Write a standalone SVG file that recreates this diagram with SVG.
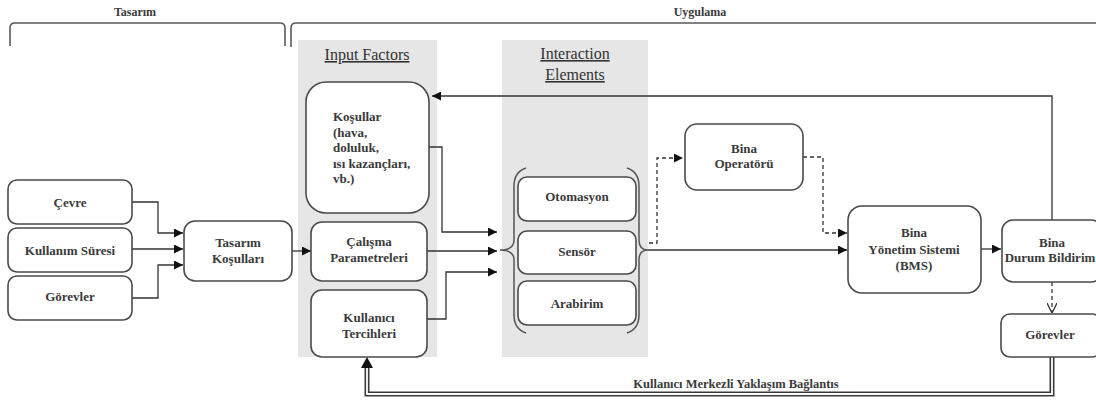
<svg xmlns="http://www.w3.org/2000/svg" width="1096" height="400" viewBox="0 0 1096 400">
  <defs>
    <style>
      .box { fill: #ffffff; stroke: #4a4a4a; stroke-width: 1.6; }
      .panel { fill: #e6e6e6; stroke: none; }
      .lbl { font-family: "Liberation Serif", "Times New Roman", serif; font-size: 13px; font-weight: bold; fill: #3a3a3a; text-anchor: middle; }
      .lbl-left { text-anchor: start; }
      .head { font-family: "Liberation Serif", "Times New Roman", serif; font-size: 16px; fill: #333333; text-anchor: middle; text-decoration: underline; }
      .phase { font-family: "Liberation Serif", "Times New Roman", serif; font-size: 12px; font-weight: bold; fill: #3a3a3a; text-anchor: middle; }
      .bracket { fill: none; stroke: #5a5a5a; stroke-width: 1.6; }
      .wire { fill: none; stroke: #333333; stroke-width: 1.3; }
      .dash { fill: none; stroke: #333333; stroke-width: 1.3; stroke-dasharray: 4 3; }
      .brace { fill: none; stroke: #555555; stroke-width: 1.5; }
    </style>
    <marker id="arrow" viewBox="0 0 10 10" refX="10" refY="5" markerWidth="10" markerHeight="9" markerUnits="userSpaceOnUse" orient="auto">
      <path d="M0,0 L10,5 L0,10 z" fill="#111111"/>
    </marker>
    <marker id="vee" viewBox="0 0 10 10" refX="10" refY="5" markerWidth="10" markerHeight="10" markerUnits="userSpaceOnUse" orient="auto">
      <path d="M0,0 L10,5 L0,10" fill="none" stroke="#333333" stroke-width="1.3"/>
    </marker>
  </defs>

  <rect width="1096" height="400" fill="#ffffff"/>

  <!-- phase brackets -->
  <g id="phases">
    <text class="phase" x="135" y="16">Tasarım</text>
    <path class="bracket" d="M10,46 V28 Q10,23 15,23 H280 Q285,23 285,28 V46"/>
    <text class="phase" x="700" y="16">Uygulama</text>
    <path class="bracket" d="M291,47 V28 Q291,23 296,23 H1100"/>
  </g>

  <!-- background panels -->
  <g id="panel-input">
    <rect class="panel" x="298" y="40" width="139" height="317"/>
    <text class="head" x="367" y="60">Input Factors</text>
  </g>
  <g id="panel-interaction">
    <rect class="panel" x="502" y="40" width="146" height="317"/>
    <text class="head" x="575" y="59">Interaction</text>
    <text class="head" x="575" y="80">Elements</text>
  </g>

  <!-- connectors -->
  <g id="connectors">
    <path class="wire" d="M132,202 H158 V233 H183" marker-end="url(#arrow)"/>
    <path class="wire" d="M132,249 H183" marker-end="url(#arrow)"/>
    <path class="wire" d="M132,298 H158 V265 H183" marker-end="url(#arrow)"/>
    <path class="wire" d="M292,251 H311" marker-end="url(#arrow)"/>
    <path class="wire" d="M418,147 H442 V232 H497" marker-end="url(#arrow)"/>
    <path class="wire" d="M427,251 H497" marker-end="url(#arrow)"/>
    <path class="wire" d="M427,319 H446 V272 H497" marker-end="url(#arrow)"/>
    <path class="brace" d="M526,168 Q514,172 514,186 V240 Q514,250 500,250 Q514,250 514,260 V315 Q514,329 526,333"/>
    <path class="brace" d="M627,168 Q639,172 639,186 V240 Q639,250 648,250 Q639,250 639,260 V315 Q639,329 627,333"/>
    <path class="wire" d="M648,250 H847" marker-end="url(#arrow)"/>
    <path class="dash" d="M649,243 H657 V158 H683" marker-end="url(#arrow)"/>
    <path class="dash" d="M803,157 H823 V233 H847" marker-end="url(#arrow)"/>
    <path class="wire" d="M981,249 H1001" marker-end="url(#arrow)"/>
    <path class="wire" d="M1052,220 V96 H432" marker-end="url(#arrow)"/>
    <path class="dash" d="M1052,282 V313" marker-end="url(#vee)"/>
    <!-- double feedback line -->
    <path d="M1052,357 V394 H367 V368" fill="none" stroke="#3a3a3a" stroke-width="5"/>
    <path d="M1052,357 V394 H367 V368" fill="none" stroke="#ffffff" stroke-width="1.8"/>
    <path d="M361,368 L367,357 L373,368 z" fill="#111111"/>
    <text class="lbl" x="736" y="388" style="font-size:12.5px">Kullanıcı Merkezli Yaklaşım Bağlantıs</text>
  </g>

  <!-- design inputs -->
  <g id="cevre">
    <rect class="box" x="8" y="180" width="124" height="44" rx="9"/>
    <text class="lbl" x="70" y="207">Çevre</text>
  </g>
  <g id="kullanim-suresi">
    <rect class="box" x="8" y="228" width="124" height="44" rx="9"/>
    <text class="lbl" x="70" y="255">Kullanım Süresi</text>
  </g>
  <g id="gorevler-left">
    <rect class="box" x="8" y="276" width="124" height="44" rx="9"/>
    <text class="lbl" x="70" y="301">Görevler</text>
  </g>
  <g id="tasarim-kosullari">
    <rect class="box" x="184" y="221" width="108" height="60" rx="11"/>
    <text class="lbl" x="238" y="247">Tasarım</text>
    <text class="lbl" x="238" y="263">Koşulları</text>
  </g>

  <!-- input factors -->
  <g id="kosullar">
    <rect class="box" x="306" y="82" width="123" height="131" rx="20"/>
    <text class="lbl lbl-left" x="333" y="121">Koşullar</text>
    <text class="lbl lbl-left" x="333" y="137">(hava,</text>
    <text class="lbl lbl-left" x="333" y="152">doluluk,</text>
    <text class="lbl lbl-left" x="333" y="168">ısı kazançları,</text>
    <text class="lbl lbl-left" x="333" y="183">vb.)</text>
  </g>
  <g id="calisma-parametreleri">
    <rect class="box" x="311" y="222" width="116" height="59" rx="11"/>
    <text class="lbl" x="369" y="246">Çalışma</text>
    <text class="lbl" x="369" y="262">Parametreleri</text>
  </g>
  <g id="kullanici-tercihleri">
    <rect class="box" x="311" y="290" width="116" height="67" rx="11"/>
    <text class="lbl" x="369" y="322">Kullanıcı</text>
    <text class="lbl" x="369" y="338">Tercihleri</text>
  </g>

  <!-- interaction elements -->
  <g id="otomasyon">
    <rect class="box" x="518" y="177" width="118" height="44" rx="9"/>
    <text class="lbl" x="577" y="201">Otomasyon</text>
  </g>
  <g id="sensor">
    <rect class="box" x="518" y="231" width="118" height="43" rx="9"/>
    <text class="lbl" x="577" y="256">Sensör</text>
  </g>
  <g id="arabirim">
    <rect class="box" x="518" y="281" width="118" height="44" rx="9"/>
    <text class="lbl" x="577" y="308">Arabirim</text>
  </g>

  <!-- operation side -->
  <g id="bina-operatoru">
    <rect class="box" x="685" y="124" width="118" height="66" rx="12"/>
    <text class="lbl" x="744" y="153">Bina</text>
    <text class="lbl" x="744" y="168">Operatörü</text>
  </g>
  <g id="bms">
    <rect class="box" x="848" y="206" width="133" height="87" rx="14"/>
    <text class="lbl" x="914" y="237">Bina</text>
    <text class="lbl" x="914" y="254">Yönetim Sistemi</text>
    <text class="lbl" x="914" y="270">(BMS)</text>
  </g>
  <g id="bina-durum-bildirimi">
    <rect class="box" x="1002" y="220" width="100" height="62" rx="11"/>
    <text class="lbl" x="1052" y="247">Bina</text>
    <text class="lbl" x="1050" y="262">Durum Bildirim</text>
  </g>
  <g id="gorevler-right">
    <rect class="box" x="1001" y="314" width="100" height="43" rx="9"/>
    <text class="lbl" x="1050" y="339">Görevler</text>
  </g>
</svg>
